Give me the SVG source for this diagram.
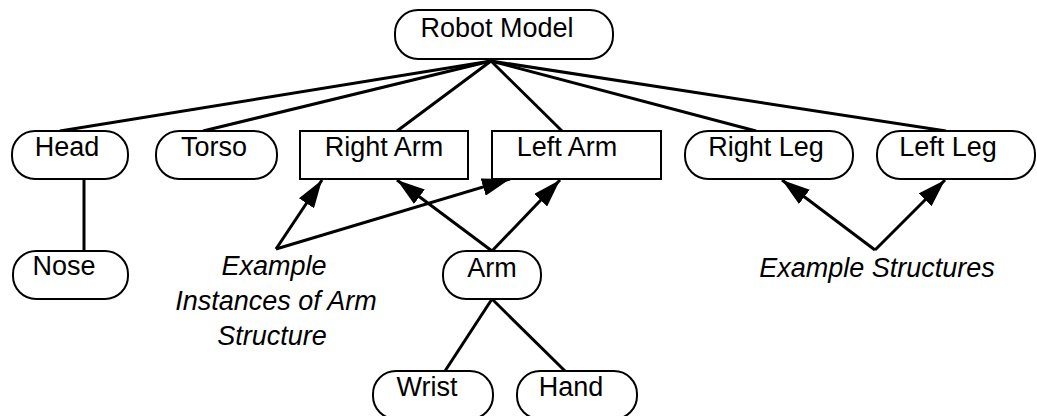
<svg xmlns="http://www.w3.org/2000/svg" width="1037" height="416" viewBox="0 0 1037 416">
<style>
.node rect{fill:#fff;stroke:#000;stroke-width:2}
.node text,.label{font-family:"Liberation Sans",Arial,sans-serif;font-size:27px;fill:#000;text-anchor:middle}
.label{font-style:italic}
.conn line{stroke:#000;stroke-width:3;fill:none}
</style>
<defs>
<marker id="ah" viewBox="0 0 28 18" refX="28" refY="9" markerWidth="28" markerHeight="18" markerUnits="userSpaceOnUse" orient="auto">
<path d="M0,0 L28,9 L0,18 z" fill="#000"/>
</marker>
</defs>
<rect width="1037" height="416" fill="#fff"/>
<g id="connectors" class="conn">
<line x1="491" y1="61" x2="60" y2="131"/>
<line x1="491" y1="61" x2="203" y2="131"/>
<line x1="491" y1="61" x2="397" y2="131"/>
<line x1="491" y1="61" x2="562" y2="131"/>
<line x1="491" y1="61" x2="756" y2="131"/>
<line x1="491" y1="61" x2="946" y2="131"/>
<line x1="84" y1="179" x2="84" y2="251"/>
<line x1="492" y1="251" x2="397" y2="180" marker-end="url(#ah)"/>
<line x1="492" y1="251" x2="560" y2="180" marker-end="url(#ah)"/>
<line x1="492" y1="299" x2="445" y2="371"/>
<line x1="492" y1="299" x2="565" y2="371"/>
<line x1="276" y1="249" x2="322" y2="180" marker-end="url(#ah)"/>
<line x1="276" y1="249" x2="510" y2="179" marker-end="url(#ah)"/>
<line x1="875" y1="250" x2="782" y2="180" marker-end="url(#ah)"/>
<line x1="875" y1="250" x2="945" y2="180" marker-end="url(#ah)"/>
</g>
<g id="robot-model" class="node"><rect x="395" y="10" width="218" height="49" rx="23"/><text x="497" y="37">Robot Model</text></g>
<g id="head" class="node"><rect x="12" y="131" width="116" height="48" rx="23"/><text x="67" y="156">Head</text></g>
<g id="torso" class="node"><rect x="156" y="131" width="121" height="48" rx="23"/><text x="214" y="156">Torso</text></g>
<g id="right-arm" class="node"><rect x="300" y="131" width="168" height="48"/><text x="384" y="156">Right Arm</text></g>
<g id="left-arm" class="node"><rect x="492" y="131" width="169" height="48"/><text x="567" y="156">Left Arm</text></g>
<g id="right-leg" class="node"><rect x="685" y="131" width="168" height="48" rx="23"/><text x="766" y="156">Right Leg</text></g>
<g id="left-leg" class="node"><rect x="877" y="131" width="158" height="48" rx="23"/><text x="948" y="156">Left Leg</text></g>
<g id="nose" class="node"><rect x="13" y="251" width="115" height="48" rx="23"/><text x="64" y="275">Nose</text></g>
<g id="arm" class="node"><rect x="443" y="251" width="98" height="48" rx="23"/><text x="492" y="277">Arm</text></g>
<g id="wrist" class="node"><rect x="373" y="371" width="120" height="48" rx="23"/><text x="427" y="396">Wrist</text></g>
<g id="hand" class="node"><rect x="517" y="371" width="120" height="48" rx="23"/><text x="571" y="396">Hand</text></g>
<g id="labels">
<text class="label" x="274" y="275">Example</text>
<text class="label" x="276" y="310">Instances of Arm</text>
<text class="label" x="272" y="345">Structure</text>
<text class="label" x="877" y="277">Example Structures</text>
</g>
</svg>
